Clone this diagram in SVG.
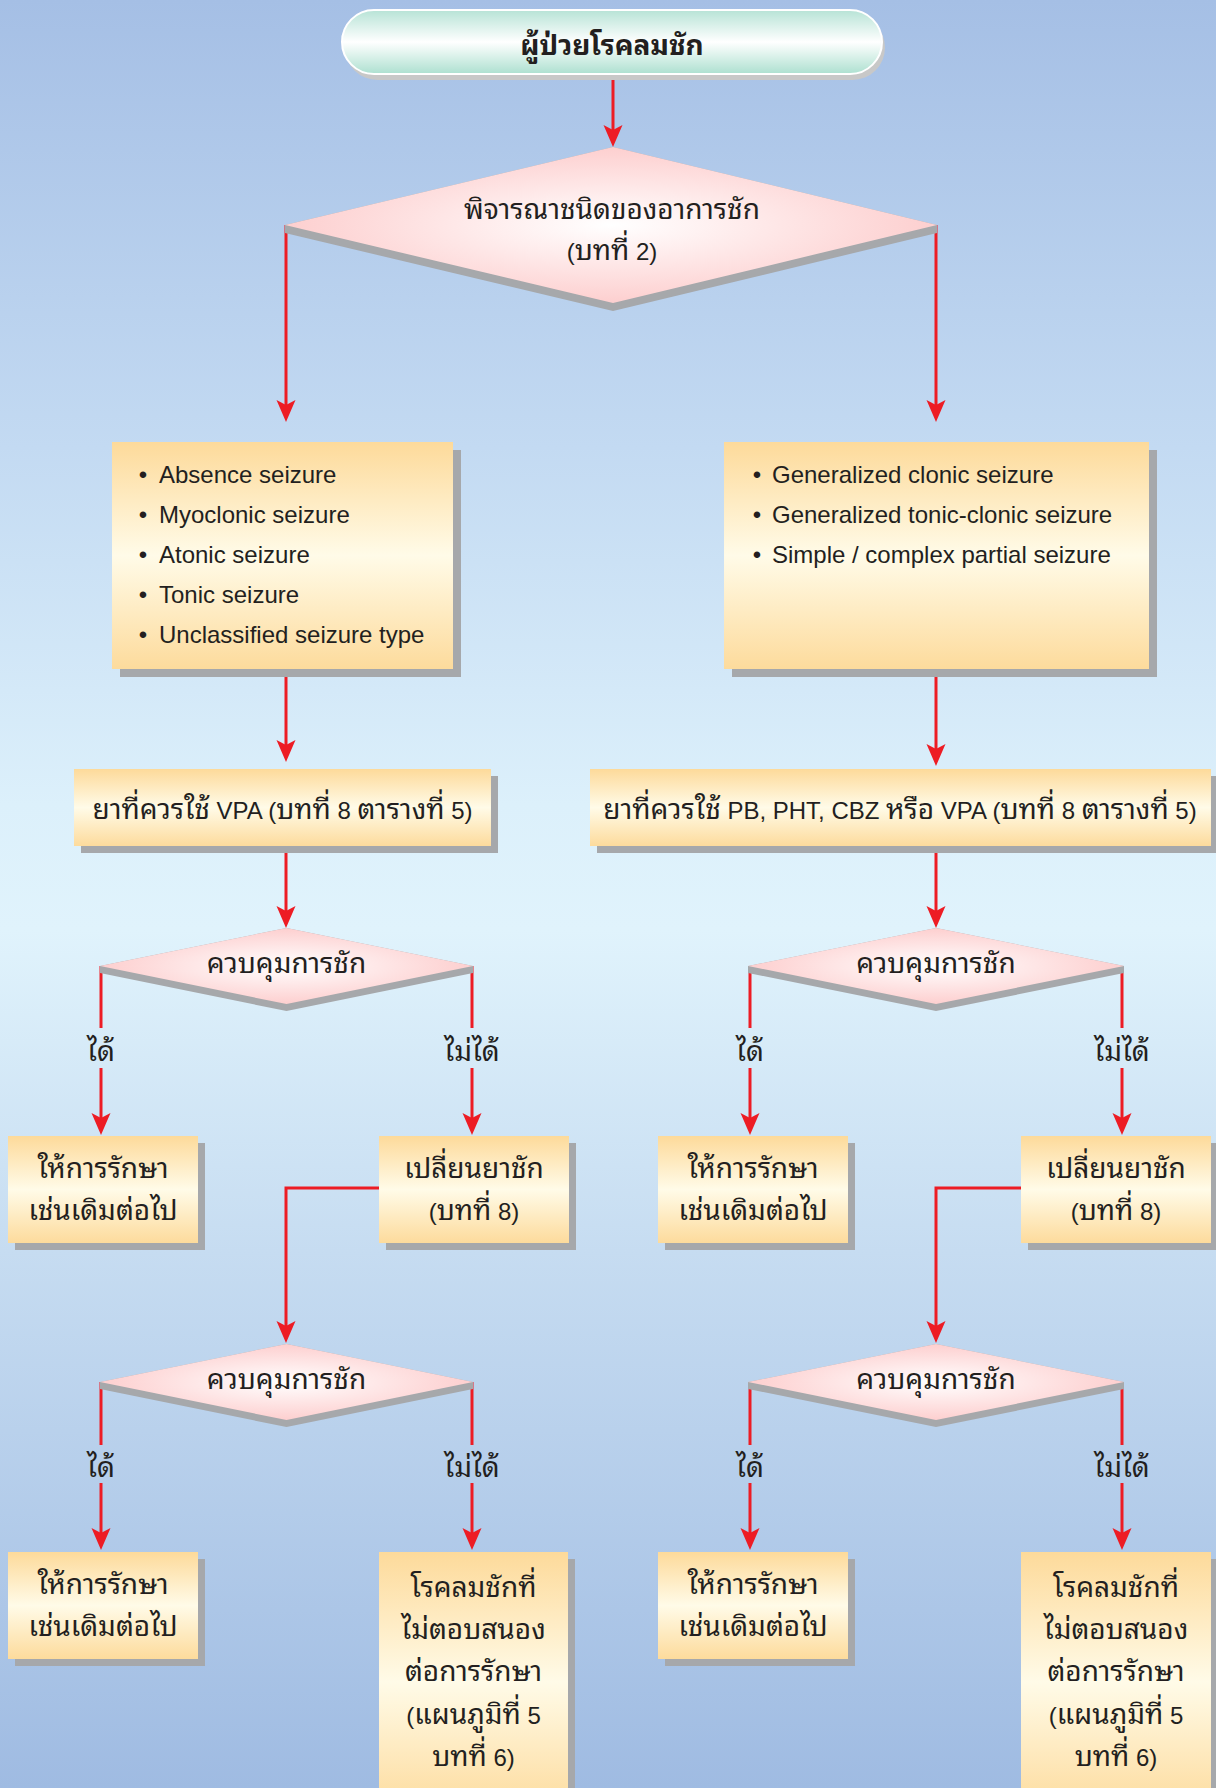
<svg xmlns="http://www.w3.org/2000/svg" width="1216" height="1788" viewBox="0 0 1216 1788">
  <defs>
    <linearGradient id="bg" x1="0" y1="0" x2="0" y2="1">
      <stop offset="0" stop-color="#a5bfe5"/>
      <stop offset="0.25" stop-color="#c3daf2"/>
      <stop offset="0.45" stop-color="#dcf0fb"/>
      <stop offset="0.52" stop-color="#e0f3fc"/>
      <stop offset="0.7" stop-color="#c6dcf1"/>
      <stop offset="1" stop-color="#9fbbe2"/>
    </linearGradient>
    <linearGradient id="boxFill" x1="0" y1="0" x2="0" y2="1">
      <stop offset="0" stop-color="#fdda9a"/>
      <stop offset="0.5" stop-color="#fffbe8"/>
      <stop offset="1" stop-color="#fddb9c"/>
    </linearGradient>
    <linearGradient id="pillFill" x1="0" y1="0" x2="0" y2="1">
      <stop offset="0" stop-color="#b7e3d6"/>
      <stop offset="0.5" stop-color="#ffffff"/>
      <stop offset="1" stop-color="#ade0d0"/>
    </linearGradient>
    <radialGradient id="diaFill" cx="0.5" cy="0.5" r="0.5">
      <stop offset="0" stop-color="#ffffff"/>
      <stop offset="1" stop-color="#fdcfcf"/>
    </radialGradient>
    <marker id="arrow" markerUnits="userSpaceOnUse" markerWidth="30" markerHeight="30" viewBox="-15 -15 30 30" refX="0" refY="0" orient="auto" overflow="visible">
      <path d="M12,0 L-10,-9.5 L-5,0 L-10,9.5 Z" fill="#ed1c24"/>
    </marker>
    <style>
      .t { font-family: "Liberation Sans", "Noto Sans Thai Looped", "Noto Sans Thai", "Garuda", "Loma", sans-serif; font-size: 24px; fill: #231f20; }
      .th { font-size: 28px; }
      .c { text-anchor: middle; }
      .b { font-weight: bold; font-size: 28px; }
      .box { fill: url(#boxFill); }
      .shadow { fill: #a6a8ab; }
      .dia { fill: url(#diaFill); }
      .conn { fill: none; stroke: #ed1c24; stroke-width: 3; }
      .arr { marker-end: url(#arrow); }
    </style>
  </defs>

  <rect x="0" y="0" width="1216" height="1788" fill="url(#bg)"/>

  <!-- connectors (drawn first so node shadows sit on top) -->
  <g id="connectors">
    <path class="conn arr" d="M613,78 V135"/>
    <path class="conn arr" d="M286,225 V410"/>
    <path class="conn arr" d="M936,225 V410"/>
    <path class="conn arr" d="M286,677 V750"/>
    <path class="conn arr" d="M936,677 V754"/>
    <path class="conn arr" d="M286,853 V916"/>
    <path class="conn arr" d="M936,853 V916"/>

    <path class="conn" d="M101,966 V1028"/>
    <path class="conn arr" d="M101,1068 V1123"/>
    <path class="conn" d="M472,966 V1028"/>
    <path class="conn arr" d="M472,1068 V1123"/>
    <path class="conn" d="M750,966 V1028"/>
    <path class="conn arr" d="M750,1068 V1123"/>
    <path class="conn" d="M1122,966 V1028"/>
    <path class="conn arr" d="M1122,1068 V1123"/>

    <path class="conn arr" d="M379,1188 H286 V1331"/>
    <path class="conn arr" d="M1021,1188 H936 V1331"/>

    <path class="conn" d="M101,1382 V1445"/>
    <path class="conn arr" d="M101,1483 V1538"/>
    <path class="conn" d="M472,1382 V1445"/>
    <path class="conn arr" d="M472,1483 V1538"/>
    <path class="conn" d="M750,1382 V1445"/>
    <path class="conn arr" d="M750,1483 V1538"/>
    <path class="conn" d="M1122,1382 V1445"/>
    <path class="conn arr" d="M1122,1483 V1538"/>

    <text class="t th c" x="101" y="1061">ได้</text>
    <text class="t th c" x="472" y="1061">ไม่ได้</text>
    <text class="t th c" x="750" y="1061">ได้</text>
    <text class="t th c" x="1122" y="1061">ไม่ได้</text>
    <text class="t th c" x="101" y="1477">ได้</text>
    <text class="t th c" x="472" y="1477">ไม่ได้</text>
    <text class="t th c" x="750" y="1477">ได้</text>
    <text class="t th c" x="1122" y="1477">ไม่ได้</text>
  </g>

  <g id="start">
    <rect x="345" y="15" width="540" height="65" rx="32.5" fill="#c8c8c8"/>
    <rect x="342" y="10" width="540" height="64" rx="32" fill="url(#pillFill)" stroke="#ffffff" stroke-width="2"/>
    <text class="t c b" x="612" y="55">ผู้ป่วยโรคลมชัก</text>
  </g>

  <g id="classify">
    <polygon class="shadow" points="285,225 613,147 937,225 937,233 613,311 285,233"/>
    <polygon class="dia" points="285,225 613,147 937,225 613,303"/>
    <text class="t th c" x="612" y="219">พิจารณาชนิดของอาการชัก</text>
    <text class="t c" x="612" y="260">(<tspan class="th">บทที่</tspan> 2)</text>
  </g>

  <g id="typesA">
    <rect class="shadow" x="120" y="450" width="341" height="227"/>
    <rect class="box" x="112" y="442" width="341" height="227"/>
    <text class="t c" x="143" y="483">•</text><text class="t" x="159" y="483">Absence seizure</text>
    <text class="t c" x="143" y="523">•</text><text class="t" x="159" y="523">Myoclonic seizure</text>
    <text class="t c" x="143" y="563">•</text><text class="t" x="159" y="563">Atonic seizure</text>
    <text class="t c" x="143" y="603">•</text><text class="t" x="159" y="603">Tonic seizure</text>
    <text class="t c" x="143" y="643">•</text><text class="t" x="159" y="643">Unclassified seizure type</text>
  </g>

  <g id="typesB">
    <rect class="shadow" x="732" y="450" width="425" height="227"/>
    <rect class="box" x="724" y="442" width="425" height="227"/>
    <text class="t c" x="757" y="483">•</text><text class="t" x="772" y="483">Generalized clonic seizure</text>
    <text class="t c" x="757" y="523">•</text><text class="t" x="772" y="523">Generalized tonic-clonic seizure</text>
    <text class="t c" x="757" y="563">•</text><text class="t" x="772" y="563">Simple / complex partial seizure</text>
  </g>

  <g id="drugA">
    <rect class="shadow" x="81" y="776" width="417" height="77"/>
    <rect class="box" x="74" y="769" width="417" height="77"/>
    <text class="t c" x="282.5" y="819"><tspan class="th">ยาที่ควรใช้</tspan> VPA (<tspan class="th">บทที่</tspan> 8 <tspan class="th">ตารางที่</tspan> 5)</text>
  </g>

  <g id="drugB">
    <rect class="shadow" x="597" y="776" width="621" height="77"/>
    <rect class="box" x="590" y="769" width="621" height="77"/>
    <text class="t c" x="900" y="819"><tspan class="th">ยาที่ควรใช้</tspan> PB, PHT, CBZ <tspan class="th">หรือ</tspan> VPA (<tspan class="th">บทที่</tspan> 8 <tspan class="th">ตารางที่</tspan> 5)</text>
  </g>

  <g id="controlA1">
    <polygon class="shadow" points="100,966 286.5,928 473,966 473,973 286.5,1011 100,973"/>
    <polygon class="dia" points="100,966 286.5,928 473,966 286.5,1004"/>
    <text class="t th c" x="286.5" y="973">ควบคุมการชัก</text>
  </g>

  <g id="controlB1">
    <polygon class="shadow" points="748,966 936,928 1124,966 1124,973 936,1011 748,973"/>
    <polygon class="dia" points="748,966 936,928 1124,966 936,1004"/>
    <text class="t th c" x="936" y="973">ควบคุมการชัก</text>
  </g>

  <g id="continueA1">
    <rect class="shadow" x="15" y="1143" width="190" height="107"/>
    <rect class="box" x="8" y="1136" width="190" height="107"/>
    <text class="t th c" x="103" y="1178">ให้การรักษา</text>
    <text class="t th c" x="103" y="1220">เช่นเดิมต่อไป</text>
  </g>

  <g id="switchA">
    <rect class="shadow" x="386" y="1143" width="190" height="107"/>
    <rect class="box" x="379" y="1136" width="190" height="107"/>
    <text class="t th c" x="474" y="1178">เปลี่ยนยาชัก</text>
    <text class="t c" x="474" y="1220">(<tspan class="th">บทที่</tspan> 8)</text>
  </g>

  <g id="continueB1">
    <rect class="shadow" x="665" y="1143" width="190" height="107"/>
    <rect class="box" x="658" y="1136" width="190" height="107"/>
    <text class="t th c" x="753" y="1178">ให้การรักษา</text>
    <text class="t th c" x="753" y="1220">เช่นเดิมต่อไป</text>
  </g>

  <g id="switchB">
    <rect class="shadow" x="1028" y="1143" width="190" height="107"/>
    <rect class="box" x="1021" y="1136" width="190" height="107"/>
    <text class="t th c" x="1116" y="1178">เปลี่ยนยาชัก</text>
    <text class="t c" x="1116" y="1220">(<tspan class="th">บทที่</tspan> 8)</text>
  </g>

  <g id="controlA2">
    <polygon class="shadow" points="100,1382 286.5,1344 473,1382 473,1389 286.5,1427 100,1389"/>
    <polygon class="dia" points="100,1382 286.5,1344 473,1382 286.5,1420"/>
    <text class="t th c" x="286.5" y="1389">ควบคุมการชัก</text>
  </g>

  <g id="controlB2">
    <polygon class="shadow" points="748,1382 936,1344 1124,1382 1124,1389 936,1427 748,1389"/>
    <polygon class="dia" points="748,1382 936,1344 1124,1382 936,1420"/>
    <text class="t th c" x="936" y="1389">ควบคุมการชัก</text>
  </g>

  <g id="continueA2">
    <rect class="shadow" x="15" y="1559" width="190" height="107"/>
    <rect class="box" x="8" y="1552" width="190" height="107"/>
    <text class="t th c" x="103" y="1594">ให้การรักษา</text>
    <text class="t th c" x="103" y="1636">เช่นเดิมต่อไป</text>
  </g>

  <g id="refractoryA">
    <rect class="shadow" x="386" y="1559" width="189" height="260"/>
    <rect class="box" x="379" y="1552" width="189" height="260"/>
    <text class="t th c" x="473.5" y="1597">โรคลมชักที่</text>
    <text class="t th c" x="473.5" y="1639">ไม่ตอบสนอง</text>
    <text class="t th c" x="473.5" y="1681">ต่อการรักษา</text>
    <text class="t c" x="473.5" y="1724">(<tspan class="th">แผนภูมิที่</tspan> 5</text>
    <text class="t c" x="473.5" y="1766"><tspan class="th">บทที่</tspan> 6)</text>
  </g>

  <g id="continueB2">
    <rect class="shadow" x="665" y="1559" width="190" height="107"/>
    <rect class="box" x="658" y="1552" width="190" height="107"/>
    <text class="t th c" x="753" y="1594">ให้การรักษา</text>
    <text class="t th c" x="753" y="1636">เช่นเดิมต่อไป</text>
  </g>

  <g id="refractoryB">
    <rect class="shadow" x="1028" y="1559" width="190" height="260"/>
    <rect class="box" x="1021" y="1552" width="190" height="260"/>
    <text class="t th c" x="1116" y="1597">โรคลมชักที่</text>
    <text class="t th c" x="1116" y="1639">ไม่ตอบสนอง</text>
    <text class="t th c" x="1116" y="1681">ต่อการรักษา</text>
    <text class="t c" x="1116" y="1724">(<tspan class="th">แผนภูมิที่</tspan> 5</text>
    <text class="t c" x="1116" y="1766"><tspan class="th">บทที่</tspan> 6)</text>
  </g>
</svg>
